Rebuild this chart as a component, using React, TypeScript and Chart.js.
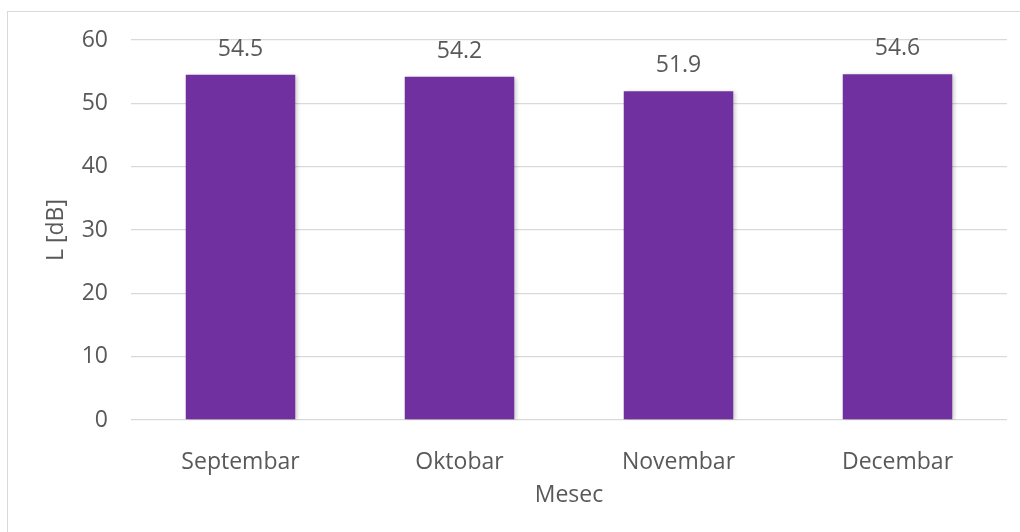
import React, { useEffect, useRef } from "react";
import { Chart, registerables } from "chart.js";

Chart.register(...registerables);

const categories = ["Septembar", "Oktobar", "Novembar", "Decembar"];
const values = [54.5, 54.2, 51.9, 54.6];
const yTitle = "L [dB]";
const xTitle = "Mesec";
const yMin = 0;
const yMax = 60;
const yStep = 10;

const FONT = "'Open Sans', sans-serif";
const TEXT = "#595959";
const FS = 23;

const labelPlugin = {
  id: "barLabels",
  beforeDatasetsDraw(chart: any) {
    const ctx = chart.ctx;
    ctx.save();
    ctx.shadowColor = "rgba(0,0,0,0.22)";
    ctx.shadowBlur = 4;
    ctx.shadowOffsetX = 2;
    ctx.shadowOffsetY = 1;
  },
  afterDatasetsDraw(chart: any) {
    const ctx = chart.ctx;
    ctx.restore();
    ctx.save();
    ctx.font = `${FS}px ${FONT}`;
    ctx.fillStyle = TEXT;
    ctx.textAlign = "center";
    ctx.textBaseline = "alphabetic";
    const meta = chart.getDatasetMeta(0);
    meta.data.forEach((bar: any, i: number) => {
      ctx.fillText(values[i].toFixed(1), bar.x, bar.y - 19);
    });
    ctx.restore();
  },
};

export default function App() {
  const ref = useRef<HTMLCanvasElement | null>(null);
  useEffect(() => {
    if (!ref.current) return;
    const chart = new Chart(ref.current, {
      type: "bar",
      data: {
        labels: categories,
        datasets: [
          {
            data: values,
            backgroundColor: "#7030A0",
            barPercentage: 0.5,
            categoryPercentage: 1,
          },
        ],
      },
      options: {
        animation: false,
        responsive: false,
        layout: { padding: { left: 0, top: 40, right: 13, bottom: 0 } },
        plugins: {
          legend: { display: false },
          tooltip: { enabled: false },
        },
        scales: {
          x: {
            grid: { display: false },
            border: { display: false },
            ticks: {
              color: TEXT,
              font: { family: FONT, size: FS, lineHeight: 1.2 },
              padding: 21,
              maxRotation: 0,
            },
            title: {
              display: true,
              text: xTitle,
              color: TEXT,
              font: { family: FONT, size: FS, lineHeight: 1.2 },
              padding: { top: 0, bottom: 23 },
            },
            afterFit(scale: any) {
              scale.height = 112;
            },
          },
          y: {
            min: yMin,
            max: yMax,
            grid: { color: "#d9d9d9", lineWidth: 1.3, drawTicks: false },
            border: { display: false },
            ticks: {
              stepSize: yStep,
              color: TEXT,
              font: { family: FONT, size: FS, lineHeight: 1.2 },
              padding: 23,
            },
            title: {
              display: true,
              text: yTitle,
              color: TEXT,
              font: { family: FONT, size: FS, lineHeight: 1.2 },
              padding: { top: 43, bottom: 0 },
            },
            afterFit(scale: any) {
              scale.width = 131;
            },
          },
        },
      },
      plugins: [labelPlugin],
    });
    return () => chart.destroy();
  }, []);

  return (
    <div
      style={{
        position: "fixed",
        left: 0,
        top: 0,
        width: 1020,
        height: 532,
        overflow: "hidden",
        background: "#ffffff",
      }}
    >
      <div
        style={{
          position: "absolute",
          left: 7,
          top: 11,
          width: 1100,
          height: 1000,
          border: "1.5px solid #d9d9d9",
        }}
      />
      <canvas
        ref={ref}
        width={1020}
        height={532}
        style={{ position: "absolute", left: 0, top: 0 }}
      />
    </div>
  );
}
